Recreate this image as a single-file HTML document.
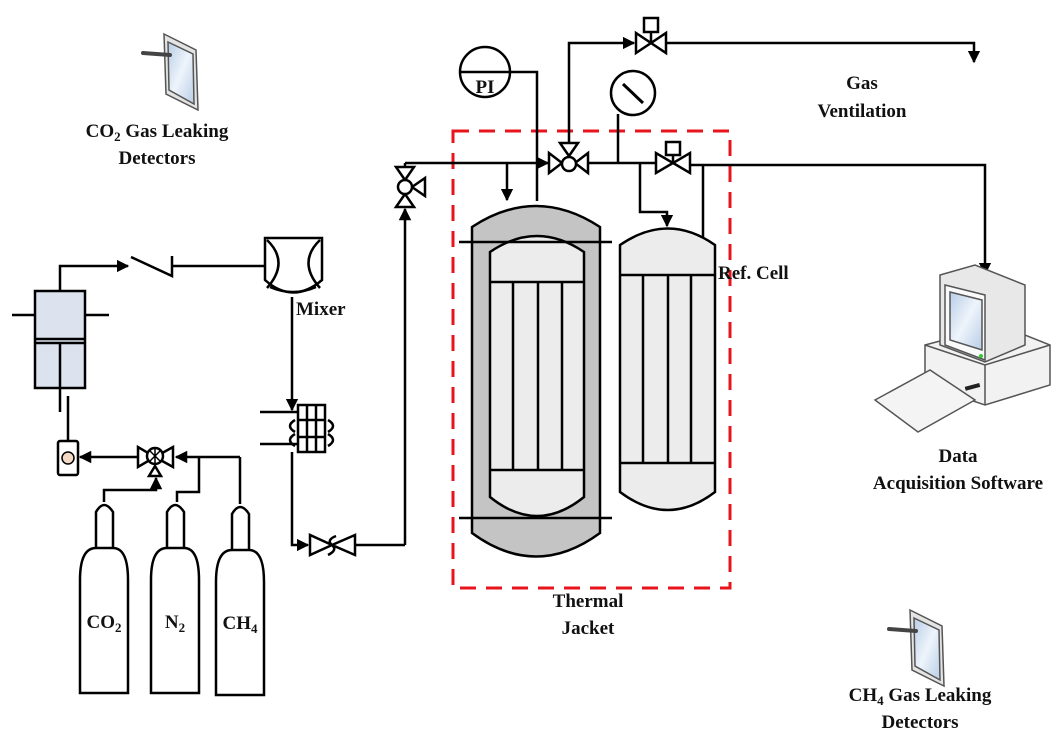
<!DOCTYPE html>
<html><head><meta charset="utf-8"><style>
html,body{margin:0;padding:0;background:#fff}
svg{display:block}
text{font-family:"Liberation Serif",serif;font-weight:bold;fill:#111}
</style></head><body>
<svg width="1059" height="749" viewBox="0 0 1059 749" xmlns="http://www.w3.org/2000/svg">
<defs>
<marker id="a" viewBox="0 0 10 10" refX="9" refY="5" markerWidth="5" markerHeight="5" orient="auto"><path d="M0,0L10,5L0,10z" fill="#000"/></marker>
<linearGradient id="scr" x1="0" y1="0" x2="1" y2="1"><stop offset="0" stop-color="#b8cde6"/><stop offset="0.5" stop-color="#eef4fb"/><stop offset="1" stop-color="#b8cde6"/></linearGradient>
</defs>
<g fill="none" stroke="#000" stroke-width="2.5">

<rect x="453" y="131" width="277" height="457" stroke="#e8141b" stroke-width="3" stroke-dasharray="16,10"/>

<path d="M472,227 Q536,185 600,227 L600,533 Q536,580 472,533 Z" fill="#c4c4c4"/>
<path d="M490,252 Q537,220 584,252 L584,497 Q537,535 490,497 Z" fill="#ececec"/>
<line x1="490" y1="282" x2="584" y2="282"/><line x1="490" y1="470" x2="584" y2="470"/>
<line x1="513" y1="282" x2="513" y2="470"/><line x1="538" y1="282" x2="538" y2="470"/><line x1="562" y1="282" x2="562" y2="470"/>
<line x1="459" y1="242" x2="612" y2="242"/><line x1="459" y1="518" x2="612" y2="518"/>

<path d="M620,245 Q668,212 715,245 L715,492 Q668,528 620,492 Z" fill="#ececec"/>
<line x1="620" y1="275" x2="715" y2="275"/><line x1="620" y1="463" x2="715" y2="463"/>
<line x1="643" y1="275" x2="643" y2="463"/><line x1="668" y1="275" x2="668" y2="463"/><line x1="691" y1="275" x2="691" y2="463"/>

<line x1="405" y1="163" x2="548" y2="163" marker-end="url(#a)"/>
<line x1="405" y1="163" x2="405" y2="167"/>
<line x1="507" y1="163" x2="507" y2="200" marker-end="url(#a)"/>
<circle cx="485" cy="72" r="25" fill="#fff"/>
<line x1="460" y1="72" x2="510" y2="72"/>
<polyline points="510,72 537,72 537,201"/>
<path d="M549,153 L549,173 L562,163 Z M588,153 L588,173 L575,163 Z M560,143 L578,143 L569,156 Z" fill="#fff"/>
<circle cx="569" cy="164" r="7" fill="#fff"/>
<polyline points="569,143 569,43 634,43" marker-end="url(#a)"/>
<path d="M636,33 L636,53 L651,43 Z M666,33 L666,53 L651,43 Z" fill="#fff"/>
<line x1="651" y1="43" x2="651" y2="32"/><rect x="644" y="18" width="14" height="14" fill="#fff"/>
<polyline points="666,43 974,43 974,62" marker-end="url(#a)"/>
<line x1="588" y1="163" x2="655" y2="163"/>
<circle cx="633" cy="93" r="22" fill="#fff"/>
<line x1="623" y1="84" x2="643" y2="103" stroke-width="3"/>
<polyline points="618,114 618,163"/>
<polyline points="640,163 640,212 667,212 667,226" marker-end="url(#a)"/>
<path d="M656,153 L656,173 L673,163 Z M690,153 L690,173 L673,163 Z" fill="#fff"/>
<line x1="673" y1="163" x2="673" y2="155"/><rect x="666" y="142" width="14" height="13" fill="#fff"/>
<polyline points="690,165 985,165 985,274" marker-end="url(#a)"/>
<line x1="703" y1="165" x2="703" y2="238"/>
<path d="M396,167 L414,167 L405,180 Z M396,207 L414,207 L405,194 Z M425,178 L425,196 L412,187 Z" fill="#fff"/>
<circle cx="405" cy="187" r="7" fill="#fff"/>
<polyline points="405,545 405,209" marker-end="url(#a)"/>
<line x1="355" y1="545" x2="405" y2="545"/>

<rect x="35" y="291" width="50" height="97" fill="#dde3ee"/>
<line x1="35" y1="339" x2="85" y2="339"/><line x1="35" y1="343" x2="85" y2="343"/>
<line x1="12" y1="315" x2="35" y2="315"/><line x1="85" y1="315" x2="109" y2="315"/>
<line x1="60" y1="343" x2="60" y2="412"/>
<polyline points="60,291 60,266 128,266" marker-end="url(#a)"/>
<polyline points="131,257 172,276 172,256"/>
<line x1="172" y1="266" x2="265" y2="266"/>
<path d="M265,238 L322,238 L322,280 Q293,305 265,280 Z" fill="#fff"/>
<path d="M267,240 Q290,262 267,288 M320,240 Q297,262 320,288 M270,287 Q293,297 316,287"/>
<line x1="292" y1="297" x2="292" y2="410" marker-end="url(#a)"/>
<rect x="298" y="405" width="27" height="47" fill="#fff"/>
<line x1="307" y1="405" x2="307" y2="452"/><line x1="316" y1="405" x2="316" y2="452"/>
<line x1="298" y1="420" x2="325" y2="420"/><line x1="298" y1="437" x2="325" y2="437"/>
<path d="M295,420 Q285,426 295,432 M328,420 Q338,426 328,432 M295,434 Q285,440 295,446 M328,434 Q338,440 328,446"/>
<line x1="260" y1="412" x2="298" y2="412"/><line x1="260" y1="444" x2="298" y2="444"/>
<polyline points="292,452 292,545 308,545" marker-end="url(#a)"/>
<path d="M310,535 L310,555 L332,545 Z M355,535 L355,555 L332,545 Z" fill="#fff"/>
<path d="M336,536 Q326,540 332,545 Q338,550 328,555"/>
<polyline points="68,396 68,441"/>
<rect x="58" y="441" width="20" height="34" rx="2" fill="#fff"/>
<circle cx="68" cy="458" r="6" fill="#f3d9c3" stroke-width="1.5"/>
<line x1="137" y1="457" x2="80" y2="457" marker-end="url(#a)"/>
<path d="M138,447 L138,467 L155,457 Z M173,447 L173,467 L155,457 Z" fill="#fff"/>
<circle cx="155" cy="456" r="8" fill="#fff"/>
<path d="M149,450 L161,462 M161,450 L149,462 M155,449 L155,464" stroke-width="1.5"/>
<path d="M149,476 L161,476 L155,466 Z" fill="#fff"/>
<line x1="240" y1="457" x2="176" y2="457" marker-end="url(#a)"/>
<polyline points="240,457 240,504"/>
<polyline points="199,457 199,492 177,492 177,502"/>
<polyline points="104,502 104,490 156,490 156,478" marker-end="url(#a)"/>
<path d="M80,580 Q80,548 96,548 L113,548 Q128,548 128,580 L128,693 L80,693 Z" fill="#fff"/>
<path d="M96,548 L96,512 Q104,498 113,512 L113,548"/>
<path d="M151,580 Q151,548 167,548 L184,548 Q199,548 199,580 L199,693 L151,693 Z" fill="#fff"/>
<path d="M167,548 L167,512 Q175,498 184,512 L184,548"/>
<path d="M216,582 Q216,550 232,550 L249,550 Q264,550 264,582 L264,695 L216,695 Z" fill="#fff"/>
<path d="M232,550 L232,514 Q240,500 249,514 L249,550"/>
</g>

<g stroke="#555" stroke-width="1.5">
<path d="M925,345 L1000,325 L1050,345 L1050,385 L985,405 L925,385 Z" fill="#f2f2f2"/>
<path d="M925,345 L985,365 L1050,345" fill="none"/>
<line x1="985" y1="365" x2="985" y2="405"/>
<path d="M940,275 L975,265 L1025,285 L1025,345 L985,362 L940,345 Z" fill="#e8e8e8"/>
<path d="M945,285 L985,295 L985,360 L945,345 Z" fill="#fafafa"/>
<path d="M950,292 L982,300 L982,350 L950,340 Z" fill="url(#scr)"/>
<path d="M875,400 L930,370 L975,400 L918,432 Z" fill="#f4f4f4"/>
</g>
<rect x="965" y="385" width="15" height="4" fill="#222" transform="rotate(-15 972 387)"/>
<circle cx="981" cy="356" r="2" fill="#3c3"/>

<g stroke="#555" stroke-width="1.5">
<path d="M164,34 L196,50 L198,110 L166,94 Z" fill="#e4e4e4"/>
<path d="M168,42 L193,54 L194,104 L169,90 Z" fill="url(#scr)"/>
<path d="M143,53 L170,55" stroke="#444" stroke-width="4" stroke-linecap="round"/>
<path d="M910,610 L942,626 L944,686 L912,670 Z" fill="#e4e4e4"/>
<path d="M914,618 L939,630 L940,680 L915,666 Z" fill="url(#scr)"/>
<path d="M889,629 L916,631" stroke="#444" stroke-width="4" stroke-linecap="round"/>
</g>

<text x="485" y="93" font-size="19" text-anchor="middle">PI</text>
<text x="157" y="137" font-size="19" text-anchor="middle">CO<tspan font-size="13" dy="4">2</tspan><tspan dy="-4"> Gas Leaking</tspan></text>
<text x="157" y="164" font-size="19" text-anchor="middle">Detectors</text>
<text x="862" y="89" font-size="19" text-anchor="middle">Gas</text>
<text x="862" y="117" font-size="19" text-anchor="middle">Ventilation</text>
<text x="718" y="279" font-size="19">Ref. Cell</text>
<text x="296" y="315" font-size="19">Mixer</text>
<text x="958" y="462" font-size="19" text-anchor="middle">Data</text>
<text x="958" y="489" font-size="19" text-anchor="middle">Acquisition Software</text>
<text x="588" y="607" font-size="19" text-anchor="middle">Thermal</text>
<text x="588" y="634" font-size="19" text-anchor="middle">Jacket</text>
<text x="920" y="701" font-size="19" text-anchor="middle">CH<tspan font-size="13" dy="4">4</tspan><tspan dy="-4"> Gas Leaking</tspan></text>
<text x="920" y="728" font-size="19" text-anchor="middle">Detectors</text>
<text x="104" y="628" font-size="19" text-anchor="middle">CO<tspan font-size="13" dy="4">2</tspan></text>
<text x="175" y="628" font-size="19" text-anchor="middle">N<tspan font-size="13" dy="4">2</tspan></text>
<text x="240" y="629" font-size="19" text-anchor="middle">CH<tspan font-size="13" dy="4">4</tspan></text>
</svg>
</body></html>
